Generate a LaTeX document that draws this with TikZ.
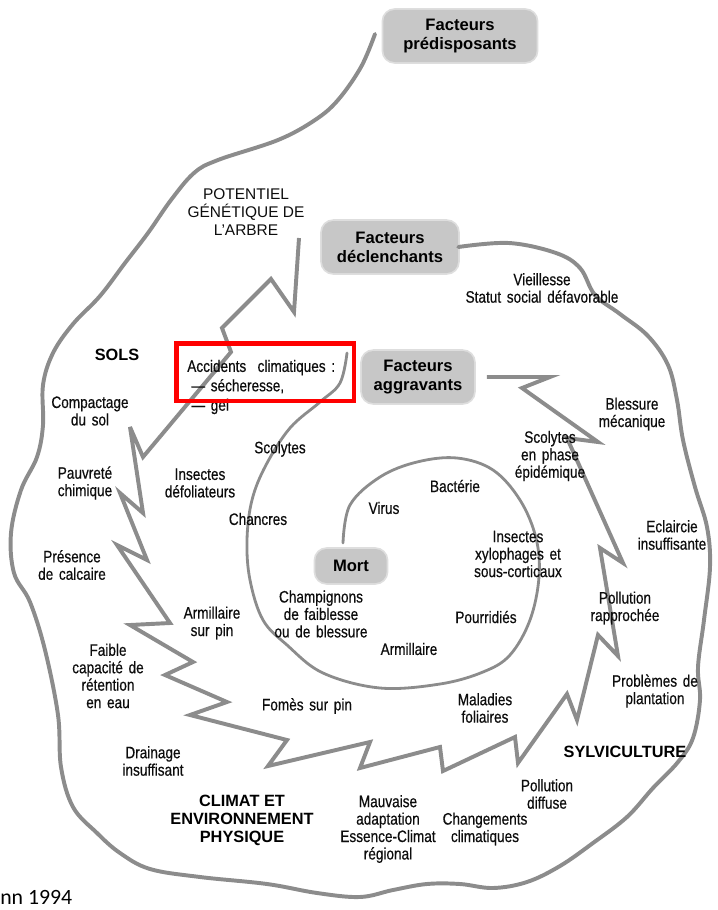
\documentclass[tikz,border=0pt]{standalone}
\usepackage{fontspec}
\setmainfont{Liberation Sans}
\newfontfamily\condfont{Liberation Sans}[FakeStretch=0.82, WordSpace=1.5, FakeBold=0.5]
\newfontfamily\citefont{Carlito}
\usetikzlibrary{positioning}

\begin{document}
\begin{tikzpicture}[
  x=0.025cm, y=-0.025cm,
  factbox/.style={rectangle, fill=black!22, rounded corners=8pt, preaction={draw=black!13, line width=2.5pt}, text=black, font=\bfseries\fontsize{11.8}{13.6}\selectfont, align=center, inner sep=0pt},
  lbl/.style={font=\condfont\fontsize{11.8}{12.4}\selectfont, text=black!95, align=center, inner sep=0pt},
  head/.style={font=\bfseries\fontsize{11.6}{12.8}\selectfont, text=black, align=center, inner sep=0pt},
  outer/.style={draw=black!45, line width=2.8pt, line cap=round},
  zigzag/.style={draw=black!45, line width=2.8pt, line join=miter, miter limit=6},
  spiral/.style={draw=black!45, line width=2pt, line cap=round},
  redframe/.style={draw=red, line width=3.2pt},
]
\useasboundingbox (0,0) rectangle (718,910);

% Factor boxes
\node[factbox, minimum width=3.83cm, minimum height=1.3cm] (predisp) at (460,36) {Facteurs\\prédisposants};
\node[factbox, minimum width=3.4cm, minimum height=1.3cm] (declench) at (390,247) {Facteurs\\déclenchants};
\node[factbox, minimum width=2.8cm, minimum height=1.3cm] (aggrav) at (418,377) {Facteurs\\aggravants};
\node[factbox, minimum width=1.78cm, minimum height=0.85cm] (mort) at (351,566) {Mort};

% Ends of the spiral lines
\coordinate (predisp tip) at (375,34);
\coordinate (zz start) at (299,238);
\coordinate[right=9pt of aggrav] (aggrav tip);
\coordinate (mort start) at (343,543);
\coordinate (spiral tip) at (347,353);

% Outer ring
\draw[outer] plot[smooth, tension=0.6] coordinates {(declench.east) (509,243) (556,253) (580,268) (595,295) (620,314) (648,336) (668,365) (677,400) (683,440) (695,487) (707,527) (710,567) (704,620) (698,667) (700,700) (693,738) (678,762) (653,788) (627,817) (593,843) (560,866) (527,882) (493,888) (460,884) (427,884) (393,890) (360,897) (317,893) (267,884) (200,877) (150,869) (120,853) (97,833) (73,807) (61,767) (58,715) (45,650) (30,602) (14,573) (11,533) (21,490) (37,457) (43,425) (43,385) (53,353) (73,324) (100,296) (125,263) (148,233) (171,200) (194,173) (218,160) (278,140) (315,120) (338,100) (361,67) (predisp tip)};

% Middle ring (zigzag)
\draw[zigzag] (zz start) -- (294,312) -- (271,279) -- (222,328) -- (231,352) -- (143,457) -- (130,427) -- (143,513) -- (120,493) -- (147,560) -- (117,545) -- (170,623) -- (130,625) -- (193,662) -- (165,675) -- (227,702) -- (190,715) -- (287,740) -- (268,766) -- (370,742) -- (360,768) -- (440,747) -- (443,771) -- (515,737) -- (518,763) -- (567,694) -- (577,720) -- (598,635) -- (618,656) -- (600,548) -- (623,563) -- (567,438) -- (598,442) -- (522,388) -- (550,377) -- (aggrav tip);

% Inner ring
\draw[spiral] plot[smooth, tension=0.6] coordinates {(mort start) (350,505) (380,477) (417,462) (457,458) (493,470) (520,500) (536,538) (539,577) (530,620) (510,655) (483,672) (440,684) (380,688) (323,673) (287,645) (263,620) (250,580) (247,540) (252,500) (266,465) (290,428) (320,402) (340,383) (spiral tip)};

% Headings
\node[head] (sols) at (117,355) {SOLS};
\node[head] (climat) at (242,820) {CLIMAT ET\\ENVIRONNEMENT\\PHYSIQUE};
\node[head] (sylvi) at (625,752) {SYLVICULTURE};
\node[lbl, font=\fontsize{11}{12.8}\selectfont] (potentiel) at (246,212) {POTENTIEL\\GÉNÉTIQUE DE\\L'ARBRE};

% Outer ring factors
\node[lbl] (vieil) at (542,288) {Vieillesse\\Statut social défavorable};
\node[lbl] (bless) at (632,414) {Blessure\\mécanique};
\node[lbl] (eclair) at (672,535) {Eclaircie\\insuffisante};
\node[lbl] (probl) at (655,691) {Problèmes de\\plantation};
\node[lbl] (polldiff) at (547,794) {Pollution\\diffuse};
\node[lbl] (chgt) at (485,829) {Changements\\climatiques};
\node[lbl] (mauv) at (388,829) {Mauvaise\\adaptation\\Essence-Climat\\régional};
\node[lbl] (drain) at (153,761) {Drainage\\insuffisant};
\node[lbl] (faible) at (108,676) {Faible\\capacité de\\rétention\\en eau};
\node[lbl] (calc) at (72,565) {Présence\\de calcaire};
\node[lbl] (pauvre) at (85,483) {Pauvreté\\chimique};
\node[lbl] (compact) at (90,411) {Compactage\\du sol};
\node[lbl, font=\condfont\fontsize{11.8}{13.8}\selectfont, align=left, anchor=west] (accid) at (187,387) {Accidents\ \ climatiques\ :\\\hspace{3pt}— sécheresse,\\\hspace{3pt}— gel};

% Middle ring factors
\node[lbl] (insdef) at (200,483) {Insectes\\défoliateurs};
\node[lbl] (scol) at (280,449) {Scolytes};
\node[lbl] (chanc) at (258,519) {Chancres};
\node[lbl] (armpin) at (212,623) {Armillaire\\sur pin};
\node[lbl] (fomes) at (307,706) {Fomès sur pin};
\node[lbl] (malad) at (485,708) {Maladies\\foliaires};
\node[lbl] (pollrap) at (625,608) {Pollution\\rapprochée};
\node[lbl] (scolep) at (550,456) {Scolytes\\en phase\\épidémique};

% Inner ring factors
\node[lbl] (virus) at (384,508) {Virus};
\node[lbl] (bact) at (455,486) {Bactérie};
\node[lbl] (insxy) at (518,554) {Insectes\\xylophages et\\sous-corticaux};
\node[lbl] (pourr) at (486,617) {Pourridiés};
\node[lbl] (arm) at (409,649) {Armillaire};
\node[lbl] (champ) at (321,614) {Champignons\\de faiblesse\\ou de blessure};

% Highlight frame
\draw[redframe] (176.5,343.5) rectangle (354,401);

% Source
\node[anchor=west, inner sep=0pt, font=\citefont\fontsize{15.5}{18}\selectfont] (cite) at (0,897) {nn 1994};
\end{tikzpicture}
\end{document}
